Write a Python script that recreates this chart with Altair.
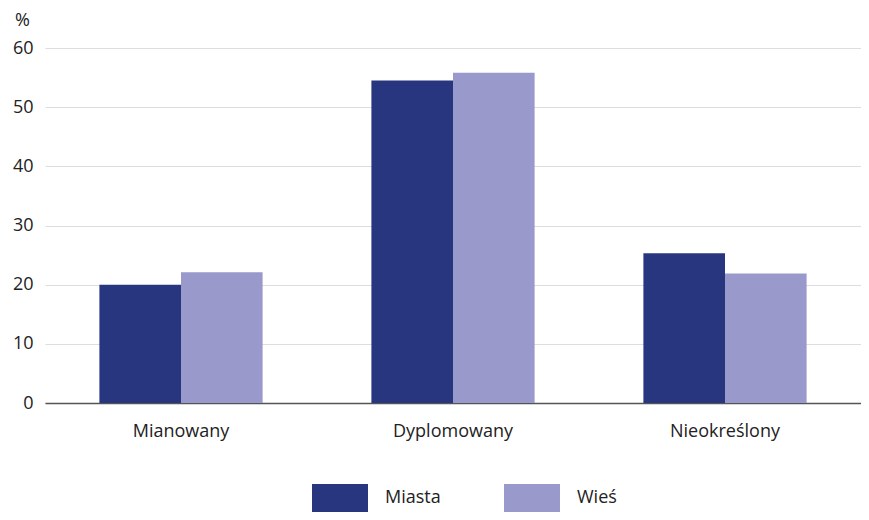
import altair as alt
import pandas as pd

categories = ["Mianowany", "Dyplomowany", "Nieokreślony"]
series = ["Miasta", "Wieś"]
miasta = [20.0, 54.5, 25.3]
wies = [22.1, 55.8, 21.9]
colors = ["#27367f", "#9999cb"]

rows = []
for c, m, w in zip(categories, miasta, wies):
    rows.append({"kategoria": c, "seria": "Miasta", "wartosc": m})
    rows.append({"kategoria": c, "seria": "Wieś", "wartosc": w})
df = pd.DataFrame(rows)

FONT = "Open Sans"
FS = 18

chart = alt.Chart(df).mark_bar().encode(
    x=alt.X("kategoria:N", sort=categories,
            scale=alt.Scale(paddingInner=0.4, paddingOuter=0.2),
            axis=alt.Axis(title=None, labelAngle=0, ticks=False, labelPadding=19,
                          labelFontSize=FS, labelColor="#222222", labelFont=FONT,
                          domainColor="#555555", domainWidth=1.5)),
    xOffset=alt.XOffset("seria:N", sort=series),
    y=alt.Y("wartosc:Q", scale=alt.Scale(domain=[0, 60]),
            axis=alt.Axis(title="%", titleAngle=0, titleAlign="center", titleBaseline="middle",
                          titleX=-23, titleY=-28, titleFontSize=FS, titleFontWeight="normal",
                          titleFont=FONT, titleColor="#222222",
                          values=[0, 10, 20, 30, 40, 50, 60], ticks=False, domain=False,
                          labelPadding=12, labelFontSize=FS, labelColor="#222222", labelFont=FONT,
                          gridColor="#dddddd", gridWidth=1)),
    color=alt.Color("seria:N", sort=series,
                    scale=alt.Scale(domain=series, range=colors),
                    legend=alt.Legend(title=None, orient="none", direction="horizontal",
                                      legendX=267, legendY=422,
                                      symbolType="M-1,-0.5H1V0.5H-1Z", symbolSize=3136,
                                      symbolOpacity=1, symbolStrokeWidth=0,
                                      labelOffset=17, columnPadding=63,
                                      labelFontSize=FS, labelColor="#222222", labelFont=FONT)),
).properties(
    width=816, height=355,
    autosize=alt.AutoSizeParams(type="none"),
    padding={"left": 37, "top": 40, "right": 0, "bottom": 109},
).configure_view(stroke=None)

chart.save("out.html", embed_options={"renderer": "svg", "actions": False})
